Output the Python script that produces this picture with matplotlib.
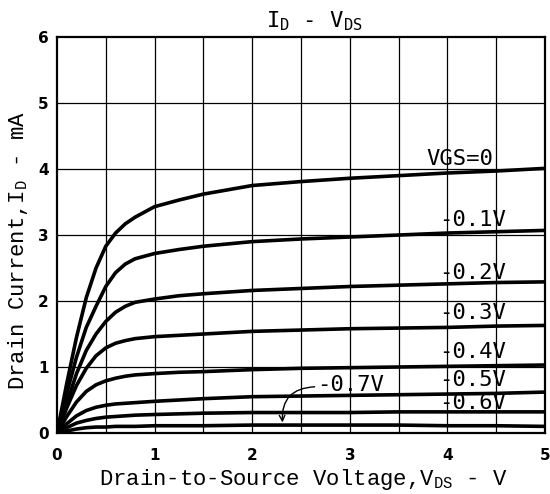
import matplotlib
matplotlib.use('Agg')
import matplotlib.pyplot as plt

plt.rcParams.update({
    'mathtext.fontset': 'custom',
    'mathtext.rm': 'Liberation Mono',
    'mathtext.it': 'Liberation Mono',
    'mathtext.bf': 'Liberation Mono:bold',
})

# V_DS sample points (V)
vds = [0, 0.1, 0.2, 0.3, 0.4, 0.5, 0.6, 0.7, 0.8, 1.0, 1.25, 1.5, 2.0, 2.5, 3.0, 3.5, 4.0, 4.5, 5.0]

# I_D (mA) per V_GS curve
id_0 = [0, 0.75, 1.45, 2.05, 2.5, 2.83, 3.03, 3.17, 3.27, 3.43, 3.53, 3.62, 3.75, 3.81, 3.86, 3.9, 3.94, 3.97, 4.01]
id_01 = [0, 0.6, 1.15, 1.6, 1.92, 2.22, 2.43, 2.56, 2.64, 2.72, 2.78, 2.83, 2.9, 2.94, 2.97, 3.0, 3.03, 3.05, 3.07]
id_02 = [0, 0.45, 0.9, 1.25, 1.5, 1.69, 1.83, 1.92, 1.98, 2.03, 2.08, 2.11, 2.16, 2.19, 2.22, 2.24, 2.26, 2.28, 2.29]
id_03 = [0, 0.38, 0.72, 0.98, 1.17, 1.29, 1.36, 1.4, 1.43, 1.46, 1.48, 1.5, 1.54, 1.56, 1.58, 1.59, 1.6, 1.62, 1.63]
id_04 = [0, 0.25, 0.47, 0.63, 0.73, 0.79, 0.83, 0.86, 0.88, 0.9, 0.92, 0.93, 0.96, 0.98, 0.99, 1.0, 1.01, 1.02, 1.03]
id_05 = [0, 0.14, 0.26, 0.34, 0.39, 0.42, 0.44, 0.45, 0.46, 0.48, 0.5, 0.52, 0.55, 0.56, 0.57, 0.58, 0.59, 0.6, 0.62]
id_06 = [0, 0.08, 0.15, 0.19, 0.22, 0.24, 0.25, 0.26, 0.27, 0.28, 0.29, 0.3, 0.31, 0.31, 0.31, 0.32, 0.32, 0.32, 0.32]
id_07 = [0, 0.03, 0.06, 0.08, 0.09, 0.09, 0.1, 0.1, 0.1, 0.11, 0.11, 0.11, 0.12, 0.12, 0.12, 0.12, 0.11, 0.11, 0.1]

curves = [id_0, id_01, id_02, id_03, id_04, id_05, id_06, id_07]

# curve labels and where they sit
labels = ['VGS=0', '-0.1V', '-0.2V', '-0.3V', '-0.4V', '-0.5V', '-0.6V']
label_x = [4.13, 4.26, 4.26, 4.26, 4.26, 4.26, 4.26]
label_y = [4.15, 3.23, 2.42, 1.82, 1.23, 0.80, 0.45]

x_ticks = [0, 1, 2, 3, 4, 5]
y_ticks = [0, 1, 2, 3, 4, 5, 6]

fig = plt.figure(figsize=(5.5, 4.94), dpi=100)
ax = fig.add_axes([0.1036, 0.1235, 0.8874, 0.8015])

for yv in curves:
    ax.plot(vds, yv, color='black', lw=2.6, solid_capstyle='round', zorder=3)

# grid: every 0.5 V on x, every 1 mA on y
for gx in [0.5 * i for i in range(1, 10)]:
    ax.axvline(gx, color='black', lw=0.9, zorder=1)
for gy in range(1, 6):
    ax.axhline(gy, color='black', lw=0.9, zorder=1)

ax.set_xlim(0, 5)
ax.set_ylim(0, 6)
ax.set_xticks(x_ticks)
ax.set_yticks(y_ticks)
ax.set_xticklabels([str(t) for t in x_ticks], fontsize=11, fontweight='bold')
ax.set_yticklabels([str(t) for t in y_ticks], fontsize=11, fontweight='bold')
ax.tick_params(length=0)
ax.tick_params(axis='x', pad=11)
ax.tick_params(axis='y', pad=6)
for s in ax.spines.values():
    s.set_linewidth(1.6)

for t, lx, ly in zip(labels, label_x, label_y):
    ax.text(lx, ly, t, family='DejaVu Sans Mono', fontsize=16,
            ha='center', va='center', zorder=4)

# -0.7V label with curved arrow
ax.text(2.66, 0.73, '-0.7V', family='DejaVu Sans Mono', fontsize=16,
        ha='left', va='center', zorder=4)
ax.annotate('', xy=(2.31, 0.16), xytext=(2.64, 0.70),
            arrowprops=dict(arrowstyle='->', lw=1.0, color='black',
                            connectionstyle='arc3,rad=0.5',
                            shrinkA=0, shrinkB=0))

ax.set_xlabel('Drain-to-Source Voltage,V$_{\\mathrm{DS}}$ - V',
              family='Liberation Mono', fontsize=16)
ax.set_ylabel('Drain Current,I$_{\\mathrm{D}}$ - mA',
              family='Liberation Mono', fontsize=16)
ax.xaxis.set_label_coords(0.505, -0.085)
ax.yaxis.set_label_coords(-0.055, 0.46)

fig.text(0.571, 0.958, 'I$_\\mathtt{D}$ - V$_\\mathtt{DS}$', fontsize=16,
         family='DejaVu Sans Mono', ha='center', va='center',
         math_fontfamily='dejavusans')

fig.savefig('out.png', dpi=100)
